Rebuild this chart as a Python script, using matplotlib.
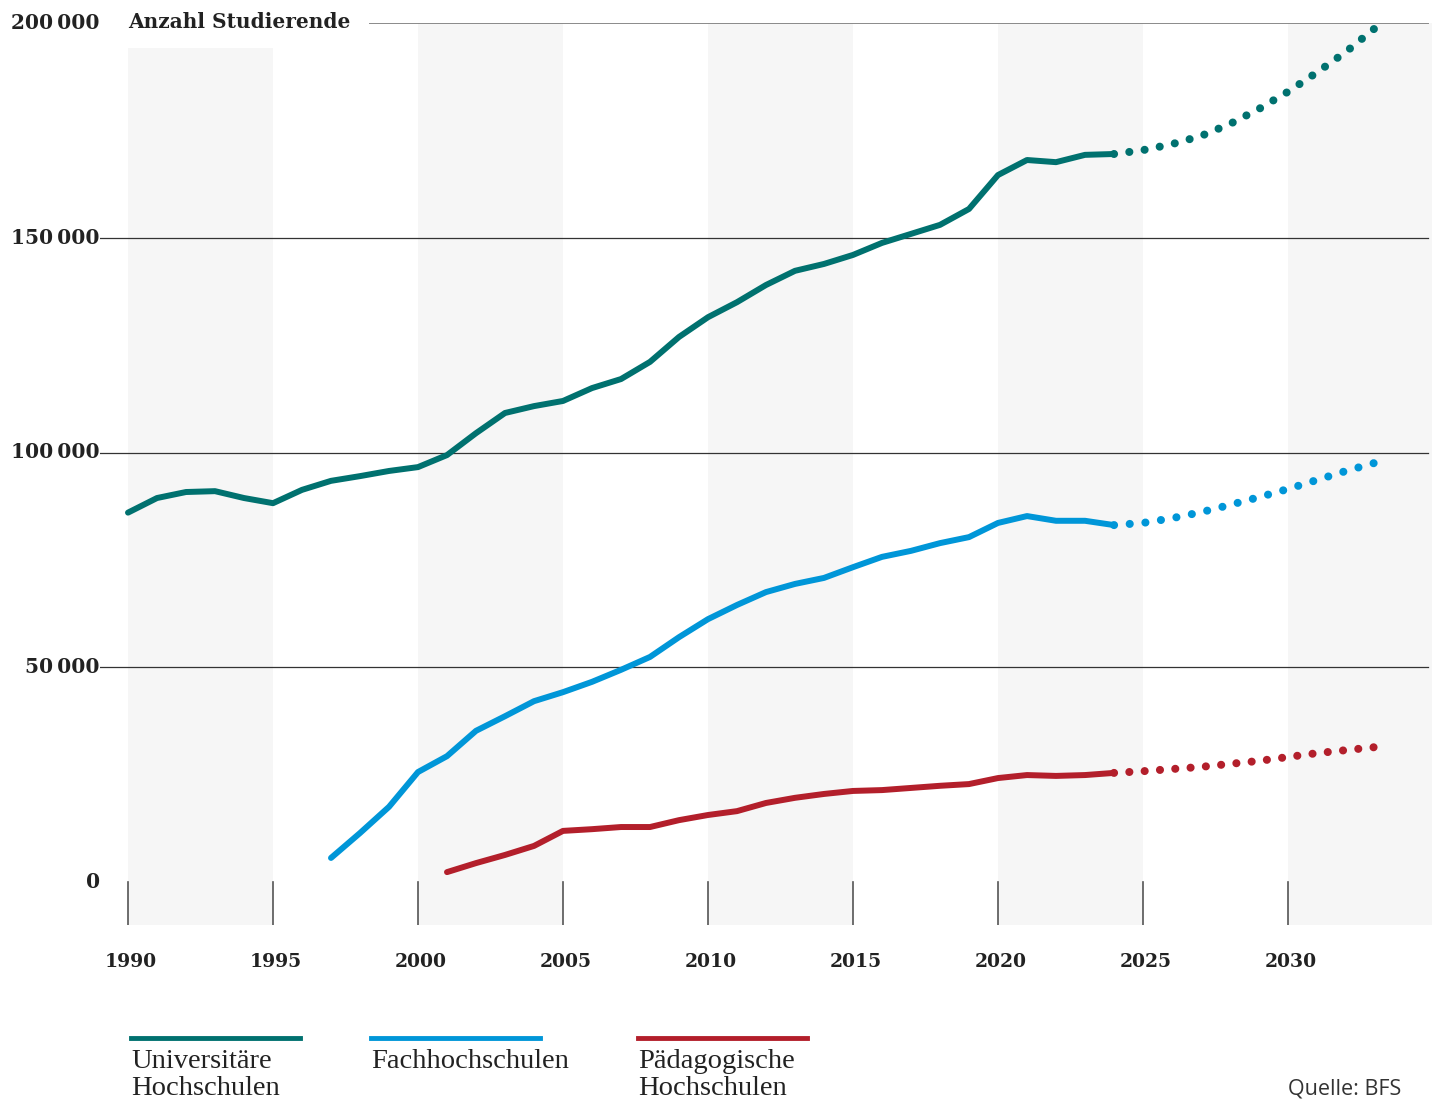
import matplotlib
matplotlib.use("Agg")
import matplotlib.pyplot as plt
import numpy as np

# Daten
years_uni = list(range(1990, 2025))
uni = [86000, 89400, 90800, 91000, 89400, 88200, 91300, 93400, 94500, 95700,
       96600, 99400, 104500, 109200, 110800, 112000, 115000, 117100, 121100, 126900,
       131500, 135000, 139000, 142300, 143900, 146000, 148800, 150900, 153000, 156700,
       164600, 168100, 167600, 169300, 169500]
years_fh = list(range(1997, 2025))
fh = [5600, 11400, 17500, 25600, 29300, 35200, 38600, 42100, 44200, 46600,
      49400, 52400, 57000, 61200, 64500, 67500, 69400, 70800, 73300, 75700,
      77100, 78900, 80300, 83600, 85200, 84100, 84100, 83100]
years_ph = list(range(2001, 2025))
ph = [2300, 4400, 6300, 8400, 11900, 12300, 12800, 12800, 14400, 15600,
      16500, 18400, 19600, 20500, 21200, 21400, 21900, 22400, 22800, 24200,
      24900, 24700, 24900, 25400]

years_proj = list(range(2024, 2034))
uni_proj = [169500, 170400, 171800, 173700, 176500, 180000, 184000, 188500, 193300, 198800]
fh_proj = [83100, 83600, 84700, 86100, 87800, 89600, 91500, 93600, 95700, 97600]
ph_proj = [25400, 25800, 26300, 26800, 27500, 28200, 29100, 30000, 30700, 31400]

labels = [["Universitäre", "Hochschulen"], ["Fachhochschulen"], ["Pädagogische", "Hochschulen"]]
colors = ["#00716F", "#0096D8", "#B31F2B"]
yticks = [0, 50000, 100000, 150000, 200000]
ytick_labels = ["0", "50\u2009000", "100\u2009000", "150\u2009000", "200\u2009000"]
xticks = list(range(1990, 2031, 5))

W, H = 1438, 1099
fig = plt.figure(figsize=(W / 100, H / 100), dpi=100)

# Achse in Pixelkoordinaten platzieren
px_year = 29.0
x_left_px, x_right_px = 100, 1432
y_top_px, y_bot_px = 23, 925
y0_px = 882
px_per_unit = (y0_px - y_top_px) / 200000
ax = fig.add_axes([x_left_px / W, 1 - y_bot_px / H,
                   (x_right_px - x_left_px) / W, (y_bot_px - y_top_px) / H])
x_min = 1990 - (128 - x_left_px) / px_year
x_max = 1990 + (x_right_px - 128) / px_year
y_min = -(y_bot_px - y0_px) / px_per_unit
ax.set_xlim(x_min, x_max)
ax.set_ylim(y_min, 200000)
ax.axis("off")

def px2y(p):
    return (y0_px - p) / px_per_unit

# Hintergrundstreifen
band = "#F6F6F6"
ax.fill_between([1990, 1995], y_min, px2y(48), color=band, lw=0, zorder=0)
for start in [2000, 2010, 2020, 2030]:
    ax.fill_between([start, min(start + 5, x_max)], y_min, 200000, color=band, lw=0, zorder=0)

# Gitterlinien
grid_end = 1990 + (1428 - 128) / px_year
for v in [50000, 100000, 150000]:
    ax.plot([x_min, grid_end], [v, v], color="#333333", lw=0.9, zorder=1)
ax.plot([1990 + (370 - 128) / px_year, grid_end], [200000, 200000], color="#8a8a8a", lw=1.4, zorder=1)

# Ticks
for xt in xticks:
    ax.plot([xt, xt], [0, y_min], color="#555555", lw=1.2, zorder=1)
    ax.text(xt + 0.1, px2y(962), str(xt), ha="center", va="center", fontsize=13.5,
            fontweight="bold", family="DejaVu Serif", color="#222222")

for v, lab in zip(yticks, ytick_labels):
    ax.text(x_min, v, lab, ha="right", va="center", fontsize=14.5, fontweight="bold",
            family="DejaVu Serif", color="#222222")

ax.text(1990, px2y(22), "Anzahl Studierende", ha="left", va="center", fontsize=14.5,
        fontweight="bold", family="DejaVu Serif", color="#222222")

# Linien
series = [(years_uni, uni, years_proj, uni_proj),
          (years_fh, fh, years_proj, fh_proj),
          (years_ph, ph, years_proj, ph_proj)]
dot_lw = 5.8
for (yx, yv, px, pv), c in zip(series, colors):
    # Punktabstand so wählen, dass der letzte Punkt (fast) auf dem Endwert liegt
    pts = ax.transData.transform(np.column_stack([px, pv]))
    length = np.sum(np.hypot(*np.diff(pts, axis=0).T)) - 1.5
    n = max(1, round(length / 15.5))
    gap = (length / n) * 72 / fig.dpi / dot_lw - 0.01
    ax.plot(px, pv, color=c, lw=dot_lw, linestyle=(0, (0.01, gap)), dash_capstyle="round",
            zorder=3, clip_on=False)
    ax.plot(yx, yv, color=c, lw=4.3, solid_capstyle="round", solid_joinstyle="round", zorder=4)

# Legende
leg_x = [131, 371, 638]
for lx, c, lines in zip(leg_x, colors, labels):
    fig.add_artist(plt.Line2D([lx / W, (lx + 169) / W], [1 - 1038 / H, 1 - 1038 / H],
                              color=c, lw=3.5, transform=fig.transFigure))
    for i, line in enumerate(lines):
        fig.text(lx / W, 1 - (1068 + 27 * i) / H, line, ha="left", va="baseline", fontsize=20.5,
                 family="Liberation Serif", color="#222222")

fig.text(1401 / W, 1 - 1094 / H, "Quelle: BFS", ha="right", va="baseline", fontsize=15.5,
         family="Open Sans", color="#333333")

fig.savefig("out.png", dpi=100)
